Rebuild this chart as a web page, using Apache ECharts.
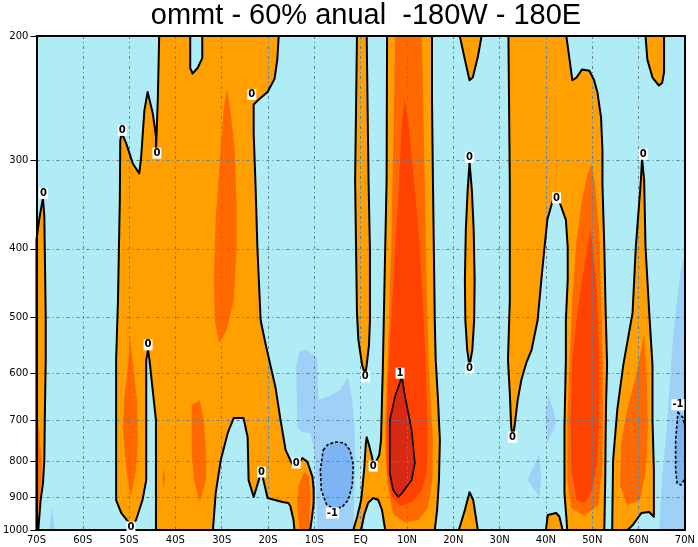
<!DOCTYPE html>
<html><head><meta charset="utf-8">
<script src="https://cdn.jsdelivr.net/npm/echarts@6/dist/echarts.min.js"></script>
<style>html,body{margin:0;padding:0;background:#fff}#c{width:698px;height:547px}</style>
</head><body><div id="c"></div>
<script>
const titleText = 'ommt - 60% anual  -180W - 180E';
const xTickValues = [-70,-60,-50,-40,-30,-20,-10,0,10,20,30,40,50,60,70];
const xTickLabels = ['70S','60S','50S','40S','30S','20S','10S','EQ','10N','20N','30N','40N','50N','60N','70N'];
const yTickValues = [200,300,400,500,600,700,800,900,1000];
const yTickLabels = ['200','300','400','500','600','700','800','900','1000'];

// shaded regions, each a list of [latitude, pressure(hPa)] vertices
const lightBlueRegions = [
  [[-13.9,584],[-13.2,560],[-11.7,556],[-9.4,571],[-9.1,655],[-7.0,647],[-4.4,634],[-2.7,607],[-1.8,655],[-1.3,722],[-1.2,822],[-1.6,1000],[-9.4,1000],[-9.6,850],[-10.0,771],[-10.9,729],[-12.6,727],[-13.7,716]],
  [[40.5,640],[42.3,703],[40.3,753],[39.9,699]],
  [[38.6,779],[39.0,841],[38.6,898],[36.0,850]],
  [[70,402],[69.1,429],[68.3,473],[67.4,538],[67.0,584],[66.1,715],[65.1,841],[64.6,958],[64.4,1000],[70,1000]],
  [[-67.2,1000],[-66.7,928],[-66.1,1000]]
];
const blueRegions = [
  [[-8.1,771],[-7.0,756],[-5.3,751],[-3.5,753],[-2.3,771],[-1.6,809],[-1.8,864],[-2.7,907],[-4.0,928],[-5.9,934],[-7.4,919],[-8.5,878],[-8.7,822]],
  [[68.5,681],[69.6,694],[70,717],[70,847],[69.1,864],[68.3,858],[68.0,822],[68.0,746]]
];
const orangeRegions = [
  [[-70,1000],[-70,388],[-69.3,360],[-68.6,339],[-68.3,360],[-68.2,400],[-68.0,500],[-68.0,575],[-68.2,699],[-68.3,796],[-68.6,860],[-69.1,907],[-69.6,1000]],
  [[-43.5,200],[-36.8,200],[-36.8,209],[-36.8,222],[-36.3,226],[-35.2,222],[-34.2,215],[-34.2,206],[-34.2,200],[-17.7,200],[-18.0,216],[-18.6,230],[-20.1,240],[-22.0,246],[-23.1,250],[-23.1,275],[-22.7,325],[-22.3,398],[-21.6,505],[-20.5,547],[-19.5,584],[-18.4,628],[-17.3,699],[-16.2,771],[-14.7,809],[-13.9,812],[-12.6,791],[-11.5,801],[-10.4,841],[-10.15,878],[-10.15,916],[-10.5,958],[-10.9,1000],[-14.3,1000],[-14.5,968],[-15.2,925],[-15.6,916],[-16.9,913],[-20.1,901],[-21.0,850],[-21.4,822],[-22.0,850],[-23.1,898],[-24.2,850],[-24.4,739],[-25.3,694],[-27.4,694],[-28.7,729],[-30.2,796],[-31.3,887],[-31.9,1000],[-44.2,1000],[-44.2,699],[-44.9,634],[-45.6,575],[-45.9,556],[-46.3,575],[-46.3,850],[-47.1,907],[-48.5,968],[-49.6,990],[-50.0,977],[-51.7,946],[-52.8,907],[-52.8,575],[-52.4,473],[-52.0,341],[-51.9,281],[-51.6,274],[-50.6,284],[-49.2,303],[-47.8,313],[-47.4,297],[-46.7,255],[-46.0,240],[-44.9,257],[-44.2,277],[-44.2,292],[-43.8,246]],
  [[-0.8,200],[1.3,200],[1.7,320],[2.0,402],[2.0,505],[1.8,547],[1.3,584],[1.0,603],[0.3,584],[-0.5,538],[-0.8,493],[-1.0,398],[-1.2,320]],
  [[5.7,200],[15.4,200],[15.4,246],[15.6,320],[15.8,402],[16.0,505],[16.2,575],[16.7,655],[17.1,746],[16.9,850],[16.5,937],[16.0,1000],[5.3,1000],[4.6,937],[3.8,907],[2.7,901],[1.6,916],[0.75,952],[0.1,1000],[-1.6,1000],[-0.75,958],[0.1,907],[0.75,822],[1.1,758],[1.3,739],[1.8,758],[2.5,791],[2.7,812],[3.3,801],[4.0,784],[4.4,746],[4.6,655],[4.8,584],[5.3,398],[5.6,320]],
  [[21.4,200],[22.5,216],[23.5,231],[24.2,229],[25.3,214],[26.1,200]],
  [[23.5,302],[24.0,330],[24.4,376],[24.6,443],[24.5,505],[24.1,556],[23.5,586],[23.0,556],[22.6,505],[22.5,443],[22.7,376],[23.1,330]],
  [[21.2,1000],[22.5,937],[23.5,884],[24.3,907],[25.3,1000]],
  [[31.9,200],[44.4,200],[45.1,216],[45.7,231],[46.6,229],[47.8,223],[49.4,224],[50.4,231],[51.1,240],[51.9,261],[52.2,290],[52.2,325],[52.6,398],[52.9,493],[53.2,584],[53.0,655],[52.9,722],[52.8,850],[52.6,1000],[44.6,1000],[44.4,958],[44.0,887],[44.0,715],[44.3,575],[44.3,505],[44.7,443],[44.7,398],[44.3,364],[42.9,343],[42.3,339],[41.4,343],[40.3,364],[39.7,398],[39.0,443],[38.2,505],[36.9,556],[35.8,579],[34.7,613],[33.9,655],[33.2,715],[32.8,739],[32.5,715],[32.2,640],[31.8,575],[32.2,473],[32.2,325]],
  [[40.0,1000],[40.4,952],[42.2,946],[42.9,957],[43.6,1000]],
  [[61.5,200],[61.9,216],[63.0,229],[64.4,235],[65.1,233],[65.5,225],[65.5,200]],
  [[60.75,298],[61.2,320],[61.5,398],[62.3,493],[63.0,584],[63.0,699],[63.3,822],[63.3,907],[63.3,958],[62.3,943],[60.6,946],[58.7,985],[57.6,1000],[54.3,1000],[54.5,796],[55.4,676],[56.7,584],[58.7,493],[59.4,398],[60.5,320]]
];
const darkOrangeRegions = [
  [[-70,676],[-69.3,730],[-68.9,800],[-69.0,860],[-69.6,930],[-70,958]],
  [[-28.9,237],[-28.1,255],[-27.2,290],[-26.8,341],[-26.8,402],[-27.4,473],[-28.9,521],[-30.6,544],[-31.5,505],[-31.7,443],[-31.3,364],[-30.4,300],[-29.6,255]],
  [[-49.8,533],[-49.1,584],[-48.3,655],[-48.1,746],[-48.5,822],[-49.6,898],[-50.6,822],[-51.3,722],[-51.1,655],[-50.2,584]],
  [[-36.5,665],[-34.7,655],[-33.9,699],[-33.4,771],[-33.4,850],[-34.7,913],[-36.0,850],[-36.5,771]],
  [[-42.5,820],[-42.2,845],[-42.5,875],[-42.8,845]],
  [[-13.4,864],[-12.2,828],[-11.2,839],[-10.8,890],[-11.0,952],[-11.1,1000],[-13.2,1000],[-13.7,922]],
  [[7.4,200],[13.2,200],[13.5,246],[13.9,341],[14.3,473],[14.7,575],[15.1,655],[15.6,746],[15.5,850],[14.5,930],[12.5,968],[9.6,975],[7.0,950],[6.0,880],[5.3,780],[5.3,700],[5.8,580],[6.6,402],[7.0,290]],
  [[49.8,303],[50.6,325],[51.5,376],[51.9,473],[52.3,575],[52.3,699],[52.1,822],[51.3,922],[48.3,955],[45.5,931],[44.6,850],[44.6,699],[45.1,575],[45.7,473],[46.6,389],[47.8,341],[48.9,315]],
  [[61.2,529],[61.8,613],[62.0,722],[61.6,822],[60.3,907],[57.5,922],[56.0,864],[56.2,758],[57.5,676],[59.5,603]]
];
const redRegions = [
  [[9.5,245],[10.3,265],[11.1,300],[11.9,341],[12.8,402],[13.4,473],[13.9,556],[14.3,655],[14.5,746],[14.3,822],[13.3,878],[11.1,913],[8.5,925],[6.6,895],[5.7,822],[5.6,722],[5.9,613],[6.6,505],[7.4,402],[8.1,341],[8.5,300],[8.9,265]],
  [[49.6,374],[50.4,415],[51.1,473],[51.5,575],[51.5,699],[51.1,796],[50.0,878],[48.3,916],[46.6,907],[45.5,822],[45.3,699],[45.7,575],[46.6,505],[47.8,443],[48.9,402]]
];
const darkRedRegions = [
  [[8.9,607],[9.6,648],[11.0,722],[11.7,804],[11.0,850],[8.9,887],[8.1,898],[7.0,878],[6.3,830],[6.3,699],[7.4,648]]
];
const labelLats = [-68.5,-51.5,-44.0,-23.5,-45.9,-49.6,-21.4,-13.9,-6.1,1.0,2.7,8.5,23.5,23.5,32.8,42.3,61.0,68.5];
const labelPressures = [334,272,293,242,547,990,828,804,946,607,812,600,297,590,739,339,294,665];
const labelTexts = ['0','0','0','0','0','0','0','0','-1','0','0','1','0','0','0','0','0','-1'];

const C = {cyan:'#b0ecf5', lb:'#9fd0f8', blue:'#7cb4f4', orange:'#ffa000', dorange:'#ff6a00', red:'#ff4200', dred:'#d72a14', grid:'#5f7f99'};

function polySeries(polys, style, z) {
  return {
    type: 'custom', silent: true, z: z, xAxisIndex: 0, yAxisIndex: 0,
    data: polys.map((poly, i) => [poly[0][0], poly[0][1], i]),
    encode: {x: 0, y: 1},
    animation: false,
    renderItem: (params, api) => {
      const poly = polys[api.value(2)];
      return {type: 'polygon', shape: {points: poly.map(pt => api.coord(pt))}, style: Object.assign({lineJoin: 'round'}, style)};
    }
  };
}

const chart = echarts.init(document.getElementById('c'), null, {renderer: 'canvas'});
const axisFont = {fontFamily: 'DejaVu Sans', fontSize: 10, color: '#000'};
chart.setOption({
  animation: false,
  backgroundColor: '#fff',
  title: {text: titleText, left: 361, top: -4, textAlign: 'center',
    textStyle: {fontFamily: 'Liberation Sans', fontSize: 29, fontWeight: 'normal', color: '#000'}},
  grid: {left: 35, right: 12, top: 36, bottom: 17, show: true, backgroundColor: C.cyan, borderWidth: 0},
  xAxis: [
    {type: 'value', min: -70, max: 70, interval: 10, z: 3,
     axisLine: {show: true, onZero: false, lineStyle: {color: '#000', width: 2}},
     axisTick: {show: false},
     axisLabel: Object.assign({margin: 5, formatter: v => xTickLabels[xTickValues.indexOf(v)] || ''}, axisFont),
     splitLine: {show: true, lineStyle: {color: C.grid, width: 1, type: [3, 3, 1, 3]}}},
    {type: 'value', position: 'top', min: -70, max: 70, z: 3,
     axisLine: {show: true, onZero: false, lineStyle: {color: '#000', width: 2}},
     axisTick: {show: false}, axisLabel: {show: false}, splitLine: {show: false}}
  ],
  yAxis: [
    {type: 'log', min: 200, max: 1000, inverse: true, z: 3,
     axisLine: {show: true, onZero: false, lineStyle: {color: '#000', width: 2}},
     axisTick: {show: true, length: 6, customValues: yTickValues, lineStyle: {color: '#000', width: 1}},
     axisLabel: Object.assign({margin: 8, customValues: yTickValues, formatter: v => yTickLabels[yTickValues.indexOf(Math.round(v))] || ''}, axisFont),
     splitLine: {show: true, lineStyle: {color: C.grid, width: 1, type: [3, 3, 1, 3]}}},
    {type: 'log', position: 'right', min: 200, max: 1000, inverse: true, z: 3,
     axisLine: {show: true, onZero: false, lineStyle: {color: '#000', width: 2}},
     axisTick: {show: false}, axisLabel: {show: false}, splitLine: {show: false}}
  ],
  series: [
    polySeries(lightBlueRegions, {fill: C.lb}, 1),
    polySeries(blueRegions, {fill: C.blue}, 1),
    polySeries(orangeRegions, {fill: C.orange}, 1),
    polySeries(darkOrangeRegions, {fill: C.dorange}, 1),
    polySeries(redRegions, {fill: C.red}, 1),
    polySeries(darkRedRegions, {fill: C.dred}, 1),
    polySeries(orangeRegions, {fill: 'none', stroke: '#000', lineWidth: 2}, 5),
    polySeries(darkRedRegions, {fill: 'none', stroke: '#000', lineWidth: 1.6}, 5),
    polySeries(blueRegions, {fill: 'none', stroke: '#000', lineWidth: 1.6, lineDash: [3, 2]}, 5),
    {
      type: 'custom', silent: true, z: 6, animation: false, xAxisIndex: 0, yAxisIndex: 0,
      data: labelLats.map((lat, i) => [lat, labelPressures[i], i]),
      encode: {x: 0, y: 1},
      renderItem: (params, api) => {
        const pt = api.coord([api.value(0), api.value(1)]);
        return {type: 'text', x: pt[0], y: pt[1], style: {
          text: labelTexts[api.value(2)], fill: '#000', font: 'bold 10px "DejaVu Sans"',
          align: 'center', verticalAlign: 'middle', backgroundColor: '#fff', padding: [1, 1, 0, 1]}};
      }
    }
  ]
});
</script></body></html>
